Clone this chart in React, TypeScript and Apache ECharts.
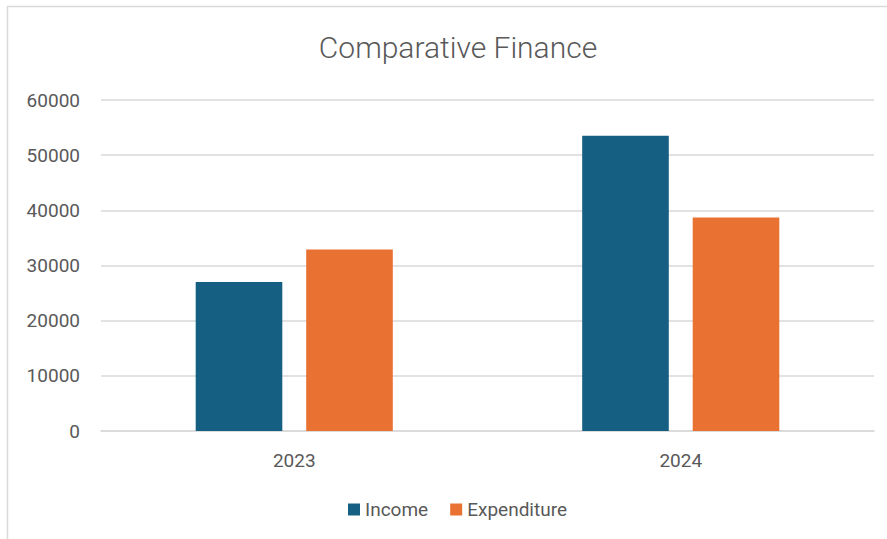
import React, { useEffect, useRef } from "react";
import * as echarts from "echarts";

const categories = ["2023", "2024"];
const incomeValues = [27000, 53500];
const expenditureValues = [32900, 38700];
const seriesNames = ["Income", "Expenditure"];
const colors = ["#156082", "#E97132"];

export default function App() {
  const ref = useRef<HTMLDivElement>(null);
  useEffect(() => {
    document.body.style.margin = "0";
    const chart = echarts.init(ref.current!, undefined, { renderer: "svg" });
    const font = "Roboto, 'Open Sans', sans-serif";
    chart.setOption({
      animation: false,
      backgroundColor: "#ffffff",
      title: {
        text: "Comparative Finance",
        left: 453,
        textAlign: "center",
        top: 27,
        textStyle: { fontFamily: font, fontSize: 30, fontWeight: 300, color: "#595959" },
      },
      graphic: [
        {
          type: "rect",
          shape: { x: 7.5, y: 6.5, width: 900, height: 600 },
          style: { fill: "none", stroke: "#d9d9d9", lineWidth: 1.5 },
          silent: true,
          z: -1,
        },
      ],
      legend: {
        top: 495,
        left: 343,
        itemWidth: 12,
        itemHeight: 12,
        itemGap: 22,
        icon: "rect",
        textStyle: { fontFamily: font, fontSize: 19, color: "#595959" },
        data: seriesNames,
      },
      grid: { left: 101, right: 13, top: 100, bottom: 108 },
      xAxis: {
        type: "category",
        data: categories,
        axisLine: { lineStyle: { color: "#d9d9d9", width: 1.5 } },
        axisTick: { show: false },
        axisLabel: { fontFamily: font, fontSize: 19, color: "#595959", margin: 20 },
      },
      yAxis: {
        type: "value",
        min: 0,
        max: 60000,
        interval: 10000,
        axisLine: { show: false },
        axisTick: { show: false },
        splitLine: { lineStyle: { color: "#d9d9d9", width: 1.5 } },
        axisLabel: {
          fontFamily: font,
          fontSize: 19,
          color: "#595959",
          margin: 21,
          formatter: (v: number) => String(v),
        },
      },
      series: [
        {
          name: seriesNames[0],
          type: "bar",
          data: incomeValues,
          itemStyle: { color: colors[0] },
          barGap: "27.6%",
          barCategoryGap: "49%",
        },
        {
          name: seriesNames[1],
          type: "bar",
          data: expenditureValues,
          itemStyle: { color: colors[1] },
          barGap: "27.6%",
          barCategoryGap: "49%",
        },
      ],
    });
    return () => chart.dispose();
  }, []);
  return <div ref={ref} style={{ width: 887, height: 539 }} />;
}
